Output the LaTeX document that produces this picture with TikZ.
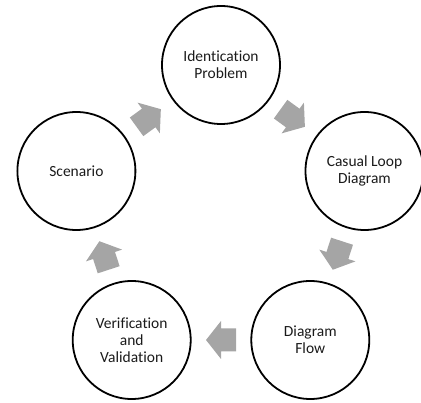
\documentclass[tikz,border=0pt]{standalone}
\usepackage{fontspec}
\setmainfont[Ligatures=CommonOff]{Carlito}
\usetikzlibrary{calc}
\definecolor{arrowgray}{HTML}{A5A5A5}
\definecolor{textdark}{HTML}{1A1A1A}
\tikzset{
  stage/.style={circle, draw=black, line width=1.8pt, minimum size=118pt,
    inner sep=0pt, align=center, text=textdark,
    font=\fontsize{15.5pt}{16.8pt}\selectfont},
}
% block arrow centred at #1, pointing in direction #2 (degrees)
\newcommand\cyclearrow[2]{%
  \fill[arrowgray, shift={(#1)}, rotate=#2]
    (-15,-11.5) -- (0,-11.5) -- (0,-19) -- (15,0) -- (0,19) -- (0,11.5)
    -- (-15,11.5) -- cycle;}
\begin{document}
\begin{tikzpicture}[x=1pt, y=1pt]
  \useasboundingbox (0,0) rectangle (421,-403);
  \node[stage] (ident) at (221,-65)    {Identication\\Problem};
  \node[stage] (loop)  at (364.5,-171) {Casual Loop\\Diagram};
  \node[stage] (flow)  at (310.3,-340) {Diagram\\Flow};
  \node[stage] (verif) at (131.7,-340) {Verification\\and\\Validation};
  \node[stage] (scen)  at (76.4,-171)  {Scenario};
  \coordinate (m1) at ($(ident)!0.5!(loop)$);
  \coordinate (m2) at ($(loop)!0.5!(flow)$);
  \coordinate (m3) at ($(flow)!0.5!(verif)$);
  \coordinate (m4) at ($(verif)!0.5!(scen)$);
  \coordinate (m5) at ($(scen)!0.5!(ident)$);
  \cyclearrow{m1}{-36}
  \cyclearrow{m2}{-108}
  \cyclearrow{m3}{180}
  \cyclearrow{m4}{108}
  \cyclearrow{m5}{36}
\end{tikzpicture}
\end{document}
